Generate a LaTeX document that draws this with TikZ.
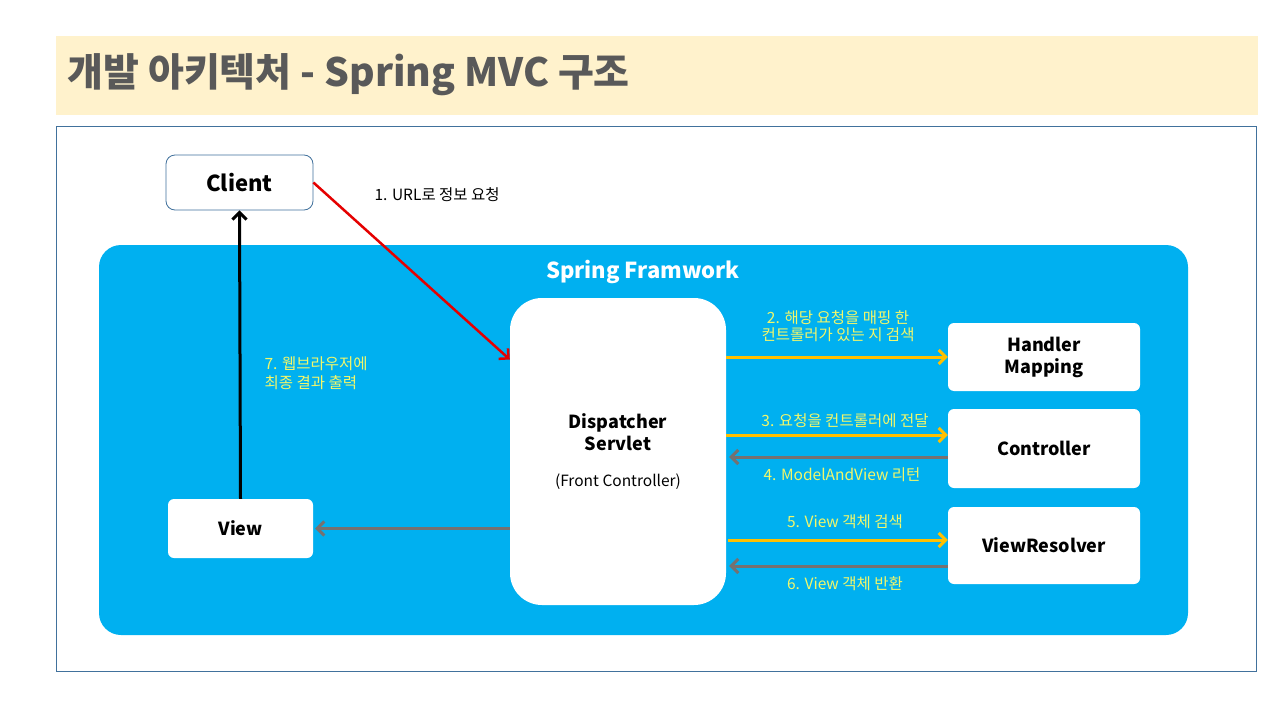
\documentclass[tikz,border=0pt]{standalone}
\usepackage{fontspec}
\setmainfont{Noto Sans CJK KR}
\usetikzlibrary{arrows.meta}

\definecolor{bandyellow}{HTML}{FFF2CC}
\definecolor{titlegray}{HTML}{595959}
\definecolor{framestroke}{HTML}{41719C}
\definecolor{springblue}{HTML}{00B0F0}
\definecolor{flowyellow}{HTML}{FFC000}
\definecolor{flowgray}{HTML}{767171}
\definecolor{noteyellow}{HTML}{F2F76A}

\begin{document}
\begin{tikzpicture}[x=1pt, y=-1pt,
  box/.style={fill=white, rounded corners=6pt, inner sep=0pt, align=center,
    font=\bfseries\fontsize{18}{22}\selectfont},
  flow/.style={line width=3pt, -{Straight Barb[length=7pt,width=14pt]}},
  note/.style={font=\fontsize{15.5}{17}\selectfont, text=noteyellow, align=center}]
  % 페이지 크기 (1280 x 720)
  \fill[white] (0,0) rectangle (1280,720);
  \useasboundingbox (0,0) rectangle (1280,720);

  % 제목 띠
  \fill[bandyellow] (56,36) rectangle (1258,115);
  \node[anchor=west, text=titlegray, font=\bfseries\fontsize{39}{44}\selectfont]
    (title) at (64,75) {개발 아키텍처 - Spring MVC 구조};

  % 바깥 테두리
  \draw[framestroke, line width=0.8pt] (56,126) rectangle (1256,671);

  % Spring 영역
  \fill[springblue, rounded corners=22pt] (99,245) rectangle (1188,635);
  \node[text=white, font=\bfseries\fontsize{22}{26}\selectfont] (spring) at (643,272) {Spring Framwork};

  % 상자들
  \node[box, draw=framestroke, line width=0.8pt, rounded corners=9pt, minimum width=147pt, minimum height=55pt,
    font=\bfseries\fontsize{22}{26}\selectfont] (client) at (239.5,182.5) {Client};
  \node[box, rounded corners=32pt, minimum width=216pt, minimum height=307pt] (dispatcher) at (618,451.5)
    {Dispatcher\\Servlet\\[14pt]{\normalfont\fontsize{15.5}{17}\selectfont (Front Controller)}};
  \node[box, minimum width=192pt, minimum height=68pt] (handler) at (1044,357) {Handler\\Mapping};
  \node[box, minimum width=192pt, minimum height=79pt] (controller) at (1044,448.5) {Controller};
  \node[box, minimum width=192pt, minimum height=77pt] (resolver) at (1044,545.5) {ViewResolver};
  \node[box, minimum width=145pt, minimum height=59pt] (view) at (240.5,528.5) {View};

  % 화살표 끝점
  \coordinate (in1) at ([yshift=92pt]dispatcher.west);
  \coordinate (c3) at ([yshift=13.5pt]controller.west);
  \coordinate (c4) at ([yshift=-8.5pt]controller.west);
  \coordinate (r5) at ([yshift=5.5pt]resolver.west);
  \coordinate (r6) at ([yshift=-20.5pt]resolver.west);

  % 1. 요청
  \draw[flow, red!90!black, line width=2.5pt] (client.east) -- (in1);
  \node[anchor=west, font=\fontsize{15.5}{17}\selectfont] (n1) at (371,195) {1. URL로 정보 요청};

  % 2 ~ 6. 디스패처 흐름
  \draw[flow, flowyellow] (dispatcher.east |- handler.west) -- (handler.west);
  \node[note] (n2) at (838,326) {2. 해당 요청을 매핑 한\\컨트롤러가 있는 지 검색};
  \draw[flow, flowyellow] (dispatcher.east |- c3) -- (c3);
  \node[note] (n3) at (845,421) {3. 요청을 컨트롤러에 전달};
  \draw[flow, flowgray] (c4) -- ([xshift=3pt]dispatcher.east |- c4);
  \node[note] (n4) at (842,475) {4. ModelAndView 리턴};
  \draw[flow, flowyellow] ([xshift=2pt]dispatcher.east |- r5) -- (r5);
  \node[note] (n5) at (845,522) {5. View 객체 검색};
  \draw[flow, flowgray] (r6) -- ([xshift=3pt]dispatcher.east |- r6);
  \node[note] (n6) at (845,584) {6. View 객체 반환};

  % 뷰 -> 클라이언트
  \draw[flow, flowgray] (dispatcher.west |- view.east) -- ([xshift=2pt]view.east);
  \draw[flow, black] (view.north) -- (client.south);
  \node[note, align=left, anchor=west] (n7) at (261,373) {7. 웹브라우저에\\[2pt]최종 결과 출력};
\end{tikzpicture}
\end{document}
